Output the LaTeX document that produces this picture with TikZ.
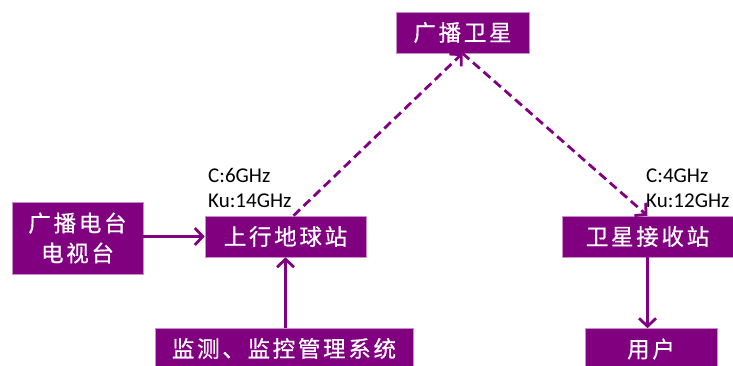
\documentclass[tikz,border=0pt]{standalone}
\usepackage{fontspec}
\setmainfont{Carlito}
\newfontfamily\cjk[LetterSpace=12,FakeBold=0.6]{Noto Sans CJK SC}
\usetikzlibrary{arrows.meta,calc}
\definecolor{pp}{HTML}{800080}
\definecolor{ppb}{HTML}{C890C8}
\begin{document}
\begin{tikzpicture}[x=1pt,y=1pt,
  box/.style={fill=pp, draw=ppb, line width=0.6pt, text=white,
    font=\cjk\fontsize{22.5}{30}\selectfont, inner sep=0pt,
    minimum height=41pt, align=center},
  arr/.style={draw=pp, line width=2.8pt, -{Straight Barb[length=8pt,width=17pt]}},
  darr/.style={arr, dash pattern=on 9pt off 5pt},
  lbl/.style={font=\fontsize{21}{25}\selectfont, inner sep=0pt, anchor=base west}]
\useasboundingbox (0,0) rectangle (733,365);
\clip (0,0) rectangle (733,365);
\node[box, minimum width=133pt] (sat) at (462.5,332.5) {广播卫星};
\node[box, minimum width=131pt, minimum height=72pt] (tv) at (77.5,127) {广播电台\\电视台};
\node[box, minimum width=161pt] (up) at (285.5,128.5) {上行地球站};
\node[box, minimum width=171pt] (rx) at (647.5,128.5) {卫星接收站};
\node[box, minimum width=132pt] (user) at (651,16) {用户};
\node[box, minimum width=258pt] (mon) at (284,16.5) {监测、监控管理系统};
\node[lbl] (l1) at (208,183) {C:6GHz};
\node[lbl] (l2) at (208,158) {Ku:14GHz};
\node[lbl] (l3) at (646,183) {C:4GHz};
\node[lbl] (l4) at (646,158) {Ku:12GHz};
\draw[arr] (tv.east |- up.west) -- (up.west);
\draw[arr] (mon.north -| up.south) -- (up.south);
\draw[darr] ($(up.north)+(8,0)$) -- (sat.south);
\draw[darr] (sat.south) -- (rx.north);
\draw[arr] (rx.south) -- (rx.south |- user.north);
\end{tikzpicture}
\end{document}
